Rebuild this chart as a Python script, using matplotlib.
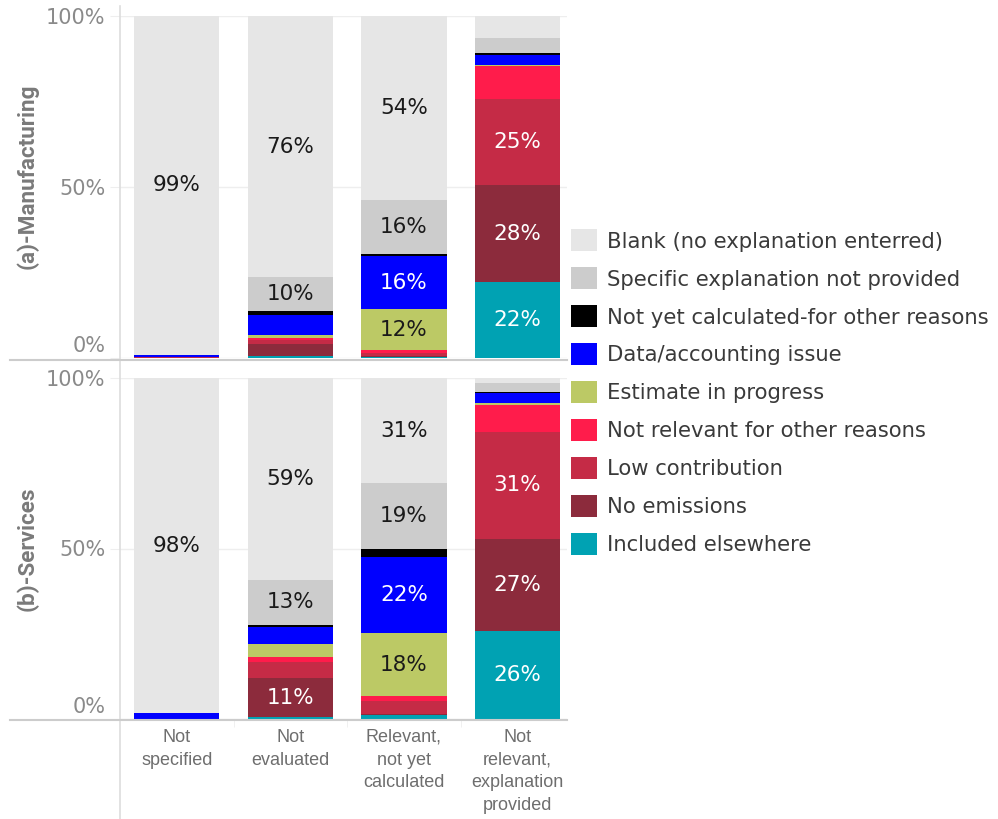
import matplotlib
matplotlib.use("Agg")
import matplotlib.pyplot as plt
from matplotlib.patches import Patch
from matplotlib.lines import Line2D
from matplotlib.transforms import ScaledTranslation
import numpy as np

plt.rcParams['font.family'] = ['DejaVu Sans']

categories = ["Not\nspecified", "Not\nevaluated", "Relevant,\nnot yet\ncalculated",
              "Not\nrelevant,\nexplanation\nprovided"]

series_names = ["Included elsewhere", "No emissions", "Low contribution",
                "Not relevant for other reasons", "Estimate in progress",
                "Data/accounting issue", "Not yet calculated-for other reasons",
                "Specific explanation not provided", "Blank (no explanation enterred)"]
series_colors = ["#00a2b3", "#8c2b3c", "#c52b46", "#ff1c4b", "#bcc965",
                 "#0000ff", "#000000", "#cccccc", "#e6e6e6"]
label_colors = ["white", "white", "white", "white", "#1a1a1a",
                "white", "white", "#1a1a1a", "#1a1a1a"]

# (a) Manufacturing, % of responses per category
mfg_included = [0.0, 0.7, 0.4, 22.2]
mfg_no_emissions = [0.0, 3.5, 0.3, 28.4]
mfg_low = [0.2, 1.1, 0.8, 25.1]
mfg_not_relevant = [0.0, 0.5, 0.9, 9.8]
mfg_estimate = [0.0, 1.0, 11.8, 0.3]
mfg_data_issue = [0.8, 5.8, 15.6, 2.9]
mfg_not_calc = [0.0, 1.0, 0.5, 0.5]
mfg_specific = [0.0, 10.0, 16.0, 4.4]
mfg_blank = [99.0, 76.4, 53.7, 6.4]

# (b) Services
srv_included = [0.0, 0.6, 1.3, 25.7]
srv_no_emissions = [0.0, 11.4, 0.3, 27.2]
srv_low = [0.0, 4.6, 3.6, 31.2]
srv_not_relevant = [0.0, 1.6, 1.6, 8.0]
srv_estimate = [0.0, 3.8, 18.3, 0.5]
srv_data_issue = [1.7, 4.9, 22.4, 2.9]
srv_not_calc = [0.0, 0.6, 2.3, 0.3]
srv_specific = [0.0, 13.4, 19.4, 2.7]
srv_blank = [98.3, 59.1, 30.8, 1.5]

mfg = [mfg_included, mfg_no_emissions, mfg_low, mfg_not_relevant, mfg_estimate,
       mfg_data_issue, mfg_not_calc, mfg_specific, mfg_blank]
srv = [srv_included, srv_no_emissions, srv_low, srv_not_relevant, srv_estimate,
       srv_data_issue, srv_not_calc, srv_specific, srv_blank]

W, H = 998, 819
fig = plt.figure(figsize=(W / 100, H / 100), dpi=100)

def px_axes(x0, y0, x1, y1):
    # pixel box (top-left origin) -> figure axes
    return fig.add_axes([x0 / W, 1 - y1 / H, (x1 - x0) / W, (y1 - y0) / H])

ax1 = px_axes(120, 16, 567, 358)
ax2 = px_axes(120, 378, 567, 719)

grey = "#8a8a8a"
x = np.arange(len(categories))

for ax, panel, title, ly in [(ax1, mfg, "(a)-Manufacturing", 0.53),
                             (ax2, srv, "(b)-Services", 0.5)]:
    bottom = np.zeros(len(categories))
    for vals, col, lc in zip(panel, series_colors, label_colors):
        vals = np.array(vals)
        ax.bar(x, vals, width=0.75, bottom=bottom, color=col, linewidth=0, zorder=2)
        for i, v in enumerate(vals):
            if v >= 9.95:
                ax.text(x[i], bottom[i] + v / 2, f"{v:.0f}%", ha="center", va="center",
                        color=lc, fontsize=15.5, zorder=3)
        bottom += vals
    ax.set_xlim(-0.5, 3.436)
    ax.set_ylim(0, 100)
    ax.set_yticks([0, 50, 100])
    ax.set_yticklabels(["0%", "50%", "100%"])
    ax.tick_params(axis="y", length=7, color="#eeeeee", labelcolor=grey, labelsize=15, pad=3.6)
    # bottom tick label sits above the baseline
    zero_lbl = ax.get_yticklabels()[0]
    zero_lbl.set_transform(zero_lbl.get_transform() + ScaledTranslation(0, 0.14, fig.dpi_scale_trans))
    ax.grid(axis="y", color="#eeeeee", linewidth=1, zorder=0)
    for s in ax.spines.values():
        s.set_visible(False)
    ax.set_ylabel(title, color="#7a7a7a", fontsize=16.2, fontweight="bold", family="Roboto")
    ax.yaxis.set_label_coords(-0.183, ly)

ax1.set_xticks([])
ax2.set_xticks(x)
ax2.set_xticklabels(categories, color="#6e6e6e", fontsize=13, linespacing=1.45,
                    family="Liberation Sans")
ax2.tick_params(axis="x", length=0, pad=7)
ax2.set_xticks([0.5, 1.5, 2.5], minor=True)
ax2.tick_params(axis="x", which="minor", length=6, color="#eeeeee")

# frame lines between panels and along the left edge
line_col = "#cccccc"
fig.add_artist(Line2D([120 / W, 120 / W], [0, 1 - 6 / H], color="#dddddd", lw=1.2))
for yp in (360, 720):
    fig.add_artist(Line2D([10 / W, 567 / W], [1 - yp / H, 1 - yp / H], color=line_col, lw=1.5))

handles = [Patch(facecolor=c, edgecolor="none") for c in series_colors[::-1]]
fig.legend(handles, series_names[::-1], loc="upper left",
           bbox_to_anchor=(563 / W, 1 - 221 / H), frameon=False, fontsize=15.2,
           handlelength=1.23, handleheight=1.23, handletextpad=0.45,
           labelspacing=0.75, labelcolor="#3a3a3a", borderaxespad=0)

fig.savefig("out.png", dpi=100)
